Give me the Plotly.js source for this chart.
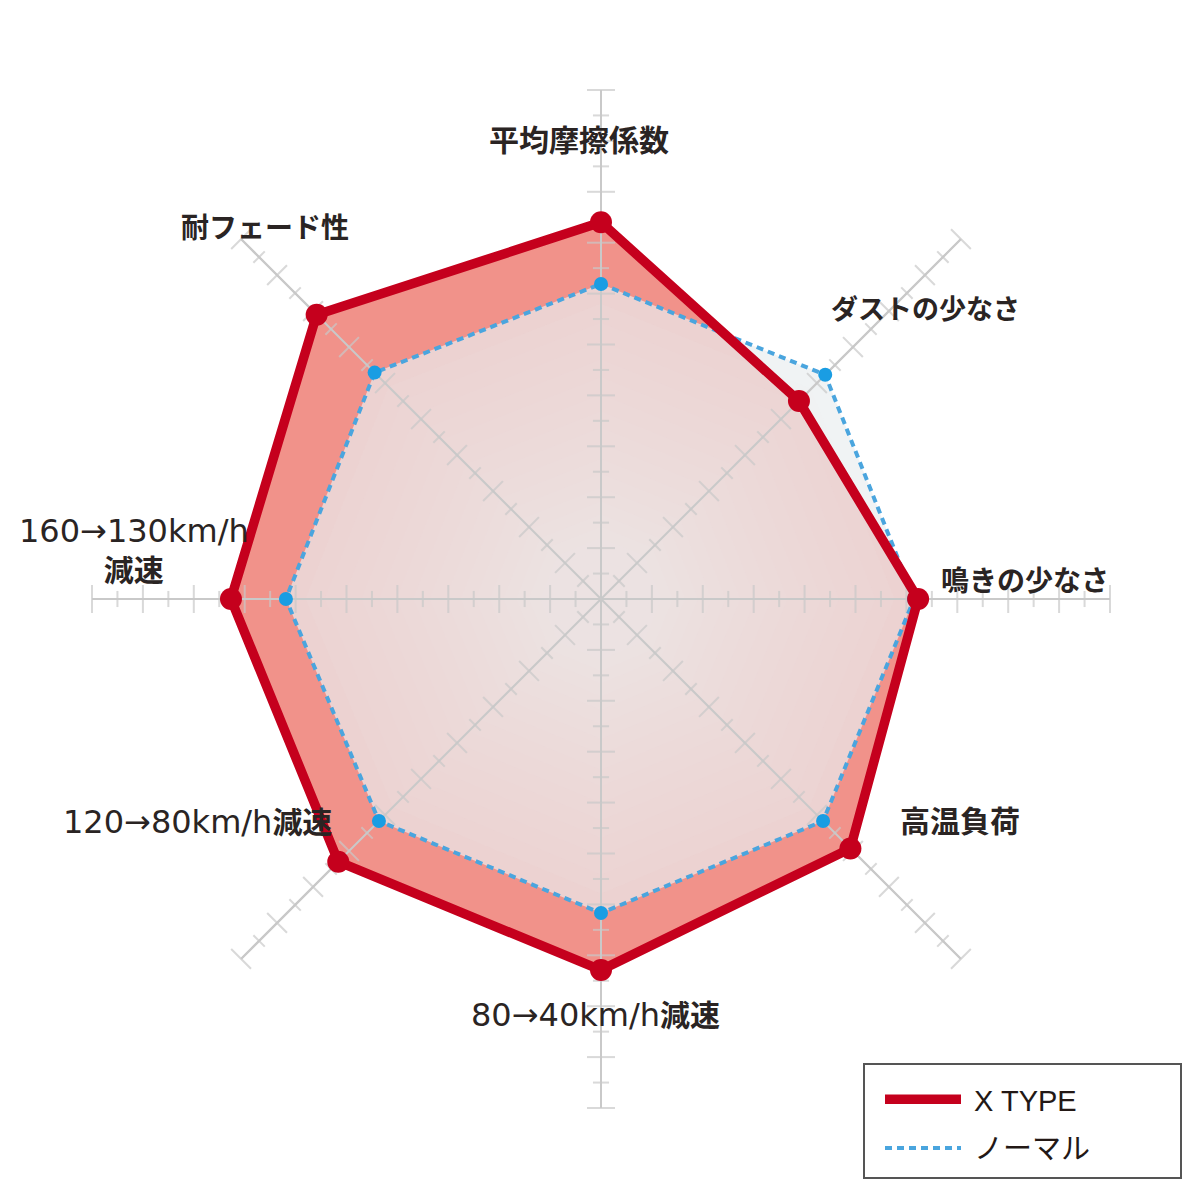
<!DOCTYPE html>
<html>
<head>
<meta charset="utf-8">
<script src="https://cdn.plot.ly/plotly-3.0.1.min.js"></script>
<style>html,body{margin:0;padding:0;background:#ffffff;}</style>
</head>
<body>
<div id="chart" style="width:1200px;height:1200px;"></div>
<script>
// ---- data ----
const categories = ['平均摩擦係数', 'ダストの少なさ', '鳴きの少なさ', '高温負荷', '80→40km/h減速', '120→80km/h減速', '160→130km/h減速', '耐フェード性'];
const xTypeValues = [7.4, 5.5, 6.23, 6.93, 7.29, 7.3, 7.27, 7.9];
const normalValues = [6.19, 6.23, 6.15, 6.17, 6.17, 6.17, 6.19, 6.29];
const seriesNames = ['X TYPE', 'ノーマル'];
const radialTicks = [0.5, 1, 1.5, 2, 2.5, 3, 3.5, 4, 4.5, 5, 5.5, 6, 6.5, 7, 7.5, 8, 8.5, 9, 9.5, 10];
const majorTicks = [1, 2, 3, 4, 5, 6, 7, 8, 9, 10];
const labelLines = [['平均摩擦係数'], ['ダストの少なさ'], ['鳴きの少なさ'], ['高温負荷'], ['80→40km/h減速'], ['120→80km/h減速'], ['160→130km/h', '減速'], ['耐フェード性']];

// ---- styles ----
const W = 1200, H = 1200;
const RED = '#c5001d';
const BLUE_LINE = '#4aa5de';
const BLUE_DOT = '#1a9de3';
const GRID = '#c9c9c9';
const labelPos = [[579, 141], [926, 309], [1025, 581], [960, 821], [595, 1015], [197, 822], [134, 550], [265, 229]];
const labelSize = [30, 27, 28, 30, 30, 30, 30, 28];
const LATIN_SIZE = 32;
const RMAX = 10;

const close = a => a.concat([a[0]]);
const thetaClosed = close(categories);
const CJK = /([\u3000-\u30ff\u4e00-\u9fff]+)|([^\u3000-\u30ff\u4e00-\u9fff]+)/g;
// bold CJK runs, slightly larger regular Latin runs
const styleLine = s => s.replace(CJK, (m, cjk, lat) =>
  cjk ? '<b>' + cjk + '</b>' : '<span style="font-size:' + LATIN_SIZE + 'px">' + lat + '</span>');

const traces = [];

// X TYPE fill
traces.push({
  type: 'scatterpolar', mode: 'lines', r: close(xTypeValues), theta: thetaClosed,
  fill: 'toself', fillcolor: 'rgb(241,146,138)', line: {width: 0, color: 'rgba(0,0,0,0)'},
  hoverinfo: 'skip', showlegend: false
});
// normal fill (translucent, bluish where it passes the X TYPE area)
traces.push({
  type: 'scatterpolar', mode: 'lines', r: close(normalValues), theta: thetaClosed,
  fill: 'toself', fillcolor: 'rgba(234,238,240,0.7)', line: {width: 0, color: 'rgba(0,0,0,0)'},
  hoverinfo: 'skip', showlegend: false
});
// soft radial lightening toward the centre
const layers = 24;
for (let j = 1; j < layers; j++) {
  const k = Math.pow(j / layers, 1.5);
  traces.push({
    type: 'scatterpolar', mode: 'lines', r: close(normalValues.map(v => v * k)), theta: thetaClosed,
    fill: 'toself', fillcolor: 'rgba(243,238,241,0.065)', line: {width: 0, color: 'rgba(0,0,0,0)'},
    hoverinfo: 'skip', showlegend: false
  });
}

// spokes and tick marks drawn over the fills
const sR = [], sT = [];
categories.forEach(c => { sR.push(0, RMAX, null); sT.push(c, c, c); });
traces.push({
  type: 'scatterpolar', mode: 'lines', r: sR, theta: sT, connectgaps: false,
  line: {color: GRID, width: 2}, hoverinfo: 'skip', showlegend: false
});
const tR = [], tT = [], tS = [], tA = [];
categories.forEach((c, i) => {
  radialTicks.forEach(t => {
    tR.push(t); tT.push(c);
    tS.push(majorTicks.includes(t) ? 20 : 11.5);
    tA.push(i * 360 / categories.length);
  });
});
traces.push({
  type: 'scatterpolar', mode: 'markers', r: tR, theta: tT,
  marker: {symbol: 'line-ew', size: tS, angle: tA, color: GRID, line: {width: 2, color: GRID}},
  hoverinfo: 'skip', showlegend: false
});

// normal line + points
traces.push({
  type: 'scatterpolar', mode: 'lines', name: '\u00a0' + seriesNames[1], r: close(normalValues), theta: thetaClosed,
  line: {color: BLUE_LINE, width: 4, dash: '7px,5px'}, legendrank: 2, legendgroup: 'n',
  hoverinfo: 'r+theta'
});
traces.push({
  type: 'scatterpolar', mode: 'markers', r: normalValues, theta: categories,
  marker: {color: BLUE_DOT, size: 14}, showlegend: false, hoverinfo: 'r+theta'
});
// X TYPE line + points
traces.push({
  type: 'scatterpolar', mode: 'lines', name: '\u00a0' + seriesNames[0], r: close(xTypeValues), theta: thetaClosed,
  line: {color: RED, width: 9.5}, legendrank: 1, legendgroup: 'x',
  hoverinfo: 'r+theta'
});
traces.push({
  type: 'scatterpolar', mode: 'markers', r: xTypeValues, theta: categories,
  marker: {color: RED, size: 22}, showlegend: false, hoverinfo: 'r+theta'
});

// category labels
const annotations = labelLines.map((lines, i) => ({
  xref: 'paper', yref: 'paper', x: labelPos[i][0] / W, y: 1 - labelPos[i][1] / H,
  xanchor: 'center', yanchor: 'middle', showarrow: false, align: 'center',
  text: lines.map(styleLine).join('<br>'),
  font: {family: 'DejaVu Sans, Noto Sans CJK JP, sans-serif', size: labelSize[i], color: '#2a2423'}
}));

const layout = {
  width: W, height: H,
  margin: {l: 0, r: 0, t: 0, b: 0},
  paper_bgcolor: '#ffffff',
  showlegend: true,
  polar: {
    domain: {x: [92 / W, 1110 / W], y: [1 - 1108 / H, 1 - 90 / H]},
    bgcolor: 'rgba(0,0,0,0)',
    angularaxis: {
      type: 'category', categoryarray: categories, direction: 'clockwise', rotation: 90,
      showgrid: true, gridcolor: GRID, gridwidth: 2, showline: false, ticks: '', showticklabels: false
    },
    radialaxis: {range: [0, RMAX], showline: false, showgrid: false, showticklabels: false, ticks: ''}
  },
  legend: {
    x: 880 / W, xanchor: 'left', y: 1 - 1074 / H, yanchor: 'top',
    bgcolor: 'rgba(0,0,0,0)', borderwidth: 0,
    font: {family: 'Liberation Sans, Noto Sans CJK JP, sans-serif', size: 29, color: '#231815'},
    itemwidth: 76, traceorder: 'grouped', tracegroupgap: 8
  },
  shapes: [{
    type: 'rect', xref: 'paper', yref: 'paper', layer: 'below',
    x0: 864 / W, x1: 1181 / W, y0: 1 - 1178 / H, y1: 1 - 1064 / H,
    line: {color: '#555555', width: 2}, fillcolor: '#ffffff'
  }],
  annotations: annotations
};

Plotly.newPlot('chart', traces, layout, {staticPlot: true, displayModeBar: false});
</script>
</body>
</html>
